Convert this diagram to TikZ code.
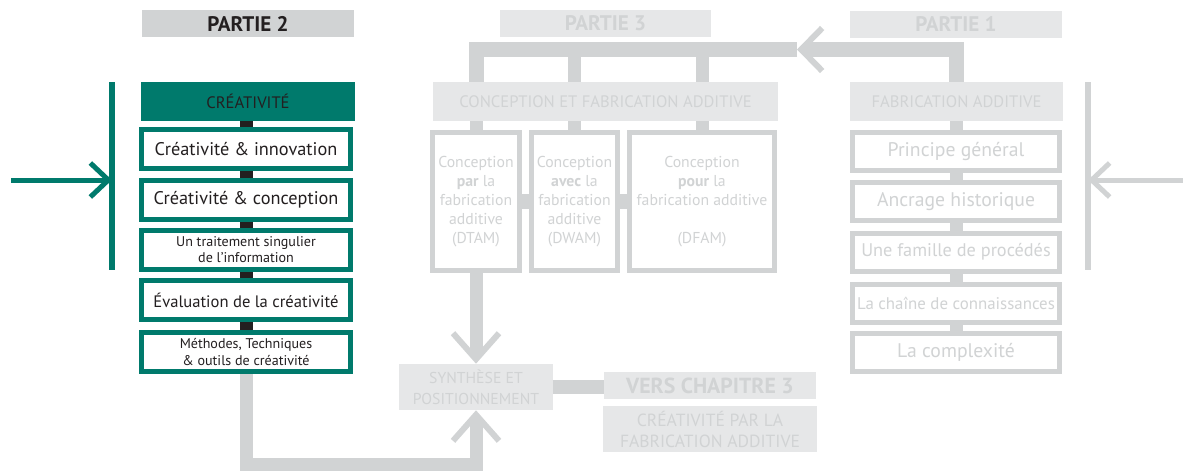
\documentclass[tikz,border=0pt]{standalone}
\usepackage{fontspec}
\setmainfont{PT Sans}
\usepackage{xcolor}
\usetikzlibrary{
    positioning,
    arrows.meta,
    calc,
}
\definecolor{vertP}{RGB}{0,122,108}
\definecolor{encre}{RGB}{35,31,32}
\definecolor{grisfort}{RGB}{209,211,212}
\definecolor{grisclair}{RGB}{230,231,232}
\tikzset{
    % Block styles
    titre/.style={rectangle, minimum height=0.675cm, inner sep=0pt,
                  font=\bfseries\fontsize{15}{17}\selectfont},
    entete/.style={rectangle, minimum height=0.975cm, inner sep=0pt, align=center,
                   font=\fontsize{11.8}{15}\selectfont},
    item/.style={rectangle, draw, line width=0.125cm, fill=white, minimum height=0.975cm,
                 inner sep=0pt, align=center, font=\fontsize{13}{15}\selectfont},
    petit/.style={font=\fontsize{10}{11.4}\selectfont},
    sousbloc/.style={item, minimum height=3.45cm, font=\fontsize{11.2}{13.5}\selectfont},
    % Arrow styles
    lien/.style={line width=0.325cm, encre},
    lienG/.style={line width=0.325cm, grisfort},
    fleche/.style={-{Straight Barb[length=0.65cm, width=1.15cm, line width=0.15cm]}},
    flecheH/.style={-{Straight Barb[length=0.525cm, width=1.075cm, line width=0.15cm]}},
    flecheS/.style={-{Straight Barb[length=0.45cm, width=0.85cm, line width=0.125cm]}},
}

\begin{document}
\begin{tikzpicture}[x=0.025cm, y=-0.025cm]
    \useasboundingbox (0,0) rectangle (1183,470);

    % Titres
    \node[titre, fill=grisfort, text=encre, minimum width=5.3cm] (p2) at (248,23.5) {PARTIE 2};
    \node[titre, fill=grisclair, text=grisfort, minimum width=5.275cm] (p3) at (605.5,23.5) {PARTIE 3};
    \node[titre, fill=grisclair, text=grisfort, minimum width=5.3cm] (p1) at (956,24) {PARTIE 1};

    % Partie 2
    \node[entete, fill=vertP, text=encre, minimum width=5.35cm] (crea) at (248,101.5) {CRÉATIVITÉ};
    \node[item, draw=vertP, text=encre, minimum width=5.225cm] (c1) at (246,149) {Créativité \& innovation};
    \node[item, draw=vertP, text=encre, minimum width=5.225cm] (c2) at (246,199.5) {Créativité \& conception};
    \node[item, draw=vertP, text=encre, minimum width=5.225cm, petit] (c3) at (246,250) {Un traitement singulier\\de l’information};
    \node[item, draw=vertP, text=encre, minimum width=5.225cm, font=\fontsize{11.8}{14}\selectfont] (c4) at (246,300) {Évaluation de la créativité};
    \node[item, draw=vertP, text=encre, minimum width=5.225cm, petit] (c5) at (246,352) {Méthodes, Techniques\\\& outils de créativité};
    \draw[lien] (crea.south -| c1.north) -- (c1.north);
    \foreach \a/\b in {c1/c2, c2/c3, c3/c4, c4/c5} {
        \draw[lien] (\a.south) -- (\b.north);
    }

    % Partie 3
    \node[entete, fill=grisclair, text=grisfort, minimum width=8.625cm] (cfa) at (605.5,101.5) {CONCEPTION ET FABRICATION ADDITIVE};
    \node[sousbloc, draw=grisfort, text=grisfort, minimum width=2.175cm] (dtam) at (476,201.5)
        {Conception\\\textbf{par} la\\fabrication\\additive\\(DTAM)};
    \node[sousbloc, draw=grisfort, text=grisfort, minimum width=2.15cm] (dwam) at (574.5,201.5)
        {Conception\\\textbf{avec} la\\fabrication\\additive\\(DWAM)};
    \node[sousbloc, draw=grisfort, text=grisfort, minimum width=3.625cm] (dfam) at (702,201.5)
        {Conception\\\textbf{pour} la\\fabrication additive\\[13.5pt](DFAM)};
    \foreach \b in {dtam, dwam, dfam} {
        \draw[lienG] (cfa.south -| \b.north) -- (\b.north);
    }
    \draw[lienG, line width=0.375cm] (dtam.east) -- (dwam.west);
    \draw[lienG, line width=0.375cm] (dwam.east) -- (dfam.west);

    % Synthese
    \node[entete, fill=grisclair, text=grisfort, minimum width=3.825cm, minimum height=1.15cm,
          font=\fontsize{11.2}{15}\selectfont] (synth) at (476,387)
        {SYNTHÈSE ET\\POSITIONNEMENT};
    \node[titre, fill=grisclair, text=grisfort, minimum width=5.3cm, font=\bfseries\fontsize{15.5}{17}\selectfont] (vers) at (710,385.5) {VERS CHAPITRE 3};
    \node[entete, fill=grisclair, text=grisfort, minimum width=5.35cm, minimum height=1.15cm,
          font=\fontsize{12.5}{15}\selectfont] (cpf) at (710,429)
        {CRÉATIVITÉ PAR LA\\FABRICATION ADDITIVE};
    \draw[lienG, line width=0.35cm] (synth.east) -- (synth.east -| vers.west);
    \draw[lienG, fleche] (dtam.south) -- (synth.north);
    \draw[lienG, fleche] (c5.south) -- ++(0,90) -| (synth.south);

    % Partie 1
    \node[entete, fill=grisclair, text=grisfort, minimum width=5.325cm] (fa) at (956.5,101.5) {FABRICATION ADDITIVE};
    \node[item, draw=grisfort, text=grisfort, minimum width=5.175cm, minimum height=0.95cm, font=\fontsize{14}{16}\selectfont] (f1) at (956,151.5) {Principe général};
    \node[item, draw=grisfort, text=grisfort, minimum width=5.175cm, minimum height=0.95cm, font=\fontsize{14}{16}\selectfont] (f2) at (956,201.5) {Ancrage historique};
    \node[item, draw=grisfort, text=grisfort, minimum width=5.175cm, minimum height=0.95cm] (f3) at (956,252) {Une famille de procédés};
    \node[item, draw=grisfort, text=grisfort, minimum width=5.175cm, minimum height=0.95cm, font=\fontsize{12}{14}\selectfont] (f4) at (956,303) {La chaîne de connaissances};
    \node[item, draw=grisfort, text=grisfort, minimum width=5.175cm, minimum height=0.95cm, font=\fontsize{14}{16}\selectfont] (f5) at (956,352) {La complexité};
    \draw[lienG] (fa.south -| f1.north) -- (f1.north);
    \foreach \a/\b in {f1/f2, f2/f3, f3/f4, f4/f5} {
        \draw[lienG] (\a.south) -- (\b.north);
    }

    % Boucle du haut
    \coordinate (tour) at (797,49.5);
    \draw[lienG, line width=0.375cm] (tour) -| (cfa.north -| dtam.north);
    \draw[lienG, line width=0.375cm, flecheH] (fa.north) |- (tour);
    \foreach \b in {dwam, dfam} {
        \draw[lienG] (tour -| \b.north) -- (cfa.north -| \b.north);
    }

    % Entrees laterales
    \coordinate (entreeG) at (11,180);
    \coordinate (barreG) at (112,82);
    \draw[vertP, line width=0.125cm, flecheS] (entreeG) -- (entreeG -| barreG);
    \draw[vertP, line width=0.15cm] (barreG) -- (112,270);
    \coordinate (entreeD) at (1183,180);
    \coordinate (barreD) at (1088,82);
    \draw[grisfort, line width=0.125cm, flecheS] (entreeD) -- (entreeD -| barreD);
    \draw[grisfort, line width=0.15cm] (barreD) -- (1088,270);
\end{tikzpicture}
\end{document}
